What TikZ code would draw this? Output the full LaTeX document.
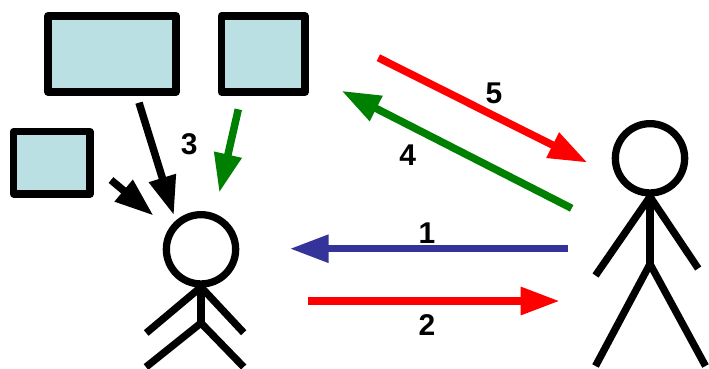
\documentclass[tikz,border=0pt]{standalone}
\usepackage{fontspec}
\setmainfont{Liberation Sans}
\usepackage{tikz}
\usetikzlibrary{arrows.meta}
\definecolor{screenfill}{HTML}{BBE0E3}
\definecolor{msgblue}{HTML}{333399}
\definecolor{msggreen}{HTML}{008000}

\begin{document}
\begin{tikzpicture}[x=1pt,y=-1pt]
    % `screen' is used for the three boxes, `head' and `limb' for the two people.
    % `msg' is used for every arrow, `num' for the arrow numbers.
    \tikzstyle{screen} = [draw,fill=screenfill,line width=7.3pt,line join=round,inner sep=0pt]
    \tikzstyle{head} = [draw,shape=circle,line width=7.3pt,minimum size=69.3pt,inner sep=0pt]
    \tikzstyle{limb} = [line width=7.3pt]
    \tikzstyle{msg} = [line width=7.5pt,-{Triangle[length=39pt,width=26.5pt,sep=-2pt]}]
    \tikzstyle{num} = [font=\fontsize{30}{30}\selectfont\bfseries,inner sep=0pt]
    %
    \useasboundingbox (0,0) rectangle (709,368);
    \clip (0,0) rectangle (709,368);
    %
    \node[screen,minimum width=128pt,minimum height=76pt] (wide) at (112,54) {};
    \node[screen,minimum width=83.5pt,minimum height=76pt] (square) at (263.25,54) {};
    \node[screen,minimum width=76.3pt,minimum height=62.3pt] (small) at (51.85,162.85) {};
    %
    % Small person.
    \node[head] (userhead) at (201,249.3) {};
    \coordinate (userneck) at (201,287);
    \coordinate (userhip) at (201,323);
    \coordinate (userarml) at (146.2,333);
    \coordinate (userarmr) at (243.7,332.7);
    \coordinate (userlegl) at (146,367);
    \coordinate (userlegr) at (243.7,367);
    \draw[limb] (userhead.south) -- (userhip);
    \draw[limb] (userarml) -- (userneck) -- (userarmr);
    \draw[limb] (userlegl) -- (userhip) -- (userlegr);
    %
    % Big person.
    \node[head] (peerhead) at (650,158.3) {};
    \coordinate (peerneck) at (650,196.7);
    \coordinate (peerhip) at (650,264);
    \coordinate (peerarml) at (595.5,275.5);
    \coordinate (peerarmr) at (698.2,268.5);
    \coordinate (peerlegl) at (595.5,366);
    \coordinate (peerlegr) at (705.5,366);
    \draw[limb] (peerhead.south) -- (peerhip);
    \draw[limb] (peerarml) -- (peerneck) -- (peerarmr);
    \draw[limb] (peerlegl) -- (peerhip) -- (peerlegr);
    %
    % Free ends of the arrows.
    \coordinate (a1) at (568,248.7);   \coordinate (b1) at (291.7,248.7);
    \coordinate (a2) at (308,301);     \coordinate (b2) at (557.7,301);
    \coordinate (a3) at (139,102.7);   \coordinate (b3) at (173.3,213.3);
    \coordinate (a3s) at (111,180);    \coordinate (b3s) at (152,214.3);
    \coordinate (a3g) at (238.3,109.3); \coordinate (b3g) at (219.7,190.7);
    \coordinate (a4) at (571.7,208.3); \coordinate (b4) at (343.3,91.7);
    \coordinate (a5) at (378.3,57.7);  \coordinate (b5) at (585.7,161.7);
    \draw[msg,msgblue] (a1) -- (b1);
    \draw[msg,red] (a2) -- (b2);
    \draw[msg,black] (a3) -- (b3);
    \draw[msg,black] (a3s) -- (b3s);
    \draw[msg,msggreen] (a3g) -- (b3g);
    \draw[msg,msggreen] (a4) -- (b4);
    \draw[msg,red] (a5) -- (b5);
    %
    \node[num] (n1) at (427,232.7) {1};
    \node[num] (n2) at (427,325) {2};
    \node[num] (n3) at (189.3,144) {3};
    \node[num] (n4) at (407.7,155) {4};
    \node[num] (n5) at (494,93.3) {5};
\end{tikzpicture}
\end{document}
